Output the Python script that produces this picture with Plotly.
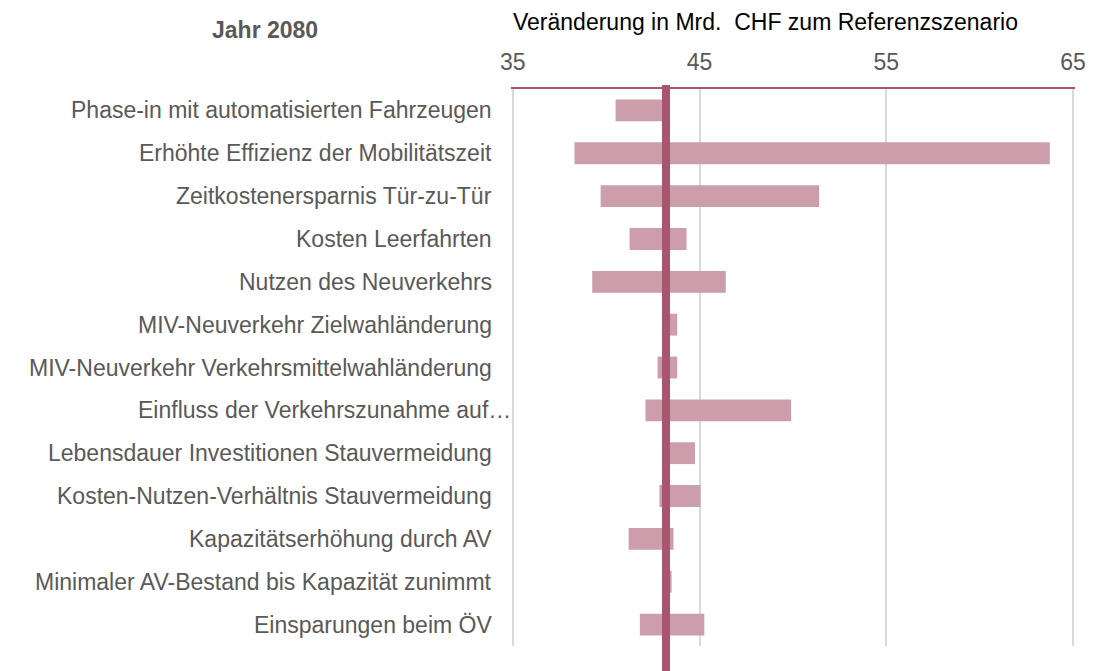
import plotly.graph_objects as go

# Daten (Mrd. CHF), Jahr 2080
categories = [
    "Phase-in mit automatisierten Fahrzeugen",
    "Erhöhte Effizienz der Mobilitätszeit",
    "Zeitkostenersparnis Tür-zu-Tür",
    "Kosten Leerfahrten",
    "Nutzen des Neuverkehrs",
    "MIV-Neuverkehr Zielwahländerung",
    "MIV-Neuverkehr Verkehrsmittelwahländerung",
    "Einfluss der Verkehrszunahme auf…",
    "Lebensdauer Investitionen Stauvermeidung",
    "Kosten-Nutzen-Verhältnis Stauvermeidung",
    "Kapazitätserhöhung durch AV",
    "Minimaler AV-Bestand bis Kapazität zunimmt",
    "Einsparungen beim ÖV",
]
low_values = [40.5, 38.3, 39.7, 41.25, 39.25, 43.2, 42.75, 42.1, 43.2, 42.85, 41.2, 43.1, 41.8]
high_values = [43.2, 63.75, 51.4, 44.3, 46.4, 43.8, 43.8, 49.9, 44.75, 45.05, 43.6, 43.5, 45.25]
reference_value = 43.2
tick_values = [35, 45, 55, 65]

BAR_COLOR = "#CC9DAA"
LINE_COLOR = "#A8566F"
GRAY = "#595959"
FONT = "Liberation Sans, Arial, sans-serif"

rows = list(range(len(categories)))

fig = go.Figure(go.Bar(
    y=rows,
    x=[h - l for l, h in zip(low_values, high_values)],
    base=low_values,
    orientation="h",
    width=0.51,
    marker=dict(color=BAR_COLOR, line=dict(width=0)),
    hoverinfo="skip",
))

# Referenzlinie
fig.add_shape(
    type="line", xref="x", yref="paper",
    x0=reference_value, x1=reference_value, y0=-0.05, y1=1.007,
    line=dict(color=LINE_COLOR, width=8),
    layer="above",
)

# Kategorienbeschriftungen
for i, cat in enumerate(categories):
    fig.add_annotation(
        x=0, xref="paper", y=i, yref="y",
        text=cat, showarrow=False,
        xanchor="right", yanchor="middle",
        xshift=2 if cat.endswith("…") else -17,
        font=dict(family=FONT, size=23, color=GRAY),
    )

fig.add_annotation(
    x=0, xref="paper", y=1, yref="paper",
    text="Veränderung in Mrd.  CHF zum Referenzszenario",
    showarrow=False, xanchor="left", yanchor="middle", yshift=67,
    font=dict(family=FONT, size=23, color="black"),
)
fig.add_annotation(
    x=0, xref="paper", y=1, yref="paper",
    text="<b>Jahr 2080</b>",
    showarrow=False, xanchor="center", yanchor="middle",
    xshift=-246, yshift=59,
    font=dict(family=FONT, size=23, color=GRAY),
)

fig.update_layout(
    width=1098, height=671,
    margin=dict(l=511, r=18, t=89, b=25),
    plot_bgcolor="white", paper_bgcolor="white",
    showlegend=False,
    font=dict(family=FONT, size=23, color=GRAY),
    xaxis=dict(
        side="top", range=[34.9, 65.1], tickvals=tick_values,
        showline=True, linecolor=LINE_COLOR, linewidth=2, mirror=False,
        showgrid=True, gridcolor="#D9D9D9", gridwidth=2,
        zeroline=False, ticks="", ticklabelstandoff=8,
        tickfont=dict(family=FONT, size=23, color=GRAY),
        fixedrange=True,
    ),
    yaxis=dict(
        range=[12.5, -0.5], showticklabels=False, showgrid=False,
        zeroline=False, showline=False, fixedrange=True,
    ),
)

fig.write_html(
    "out.html",
    config={"displayModeBar": False},
    post_script="document.body.style.margin='0';",
)
